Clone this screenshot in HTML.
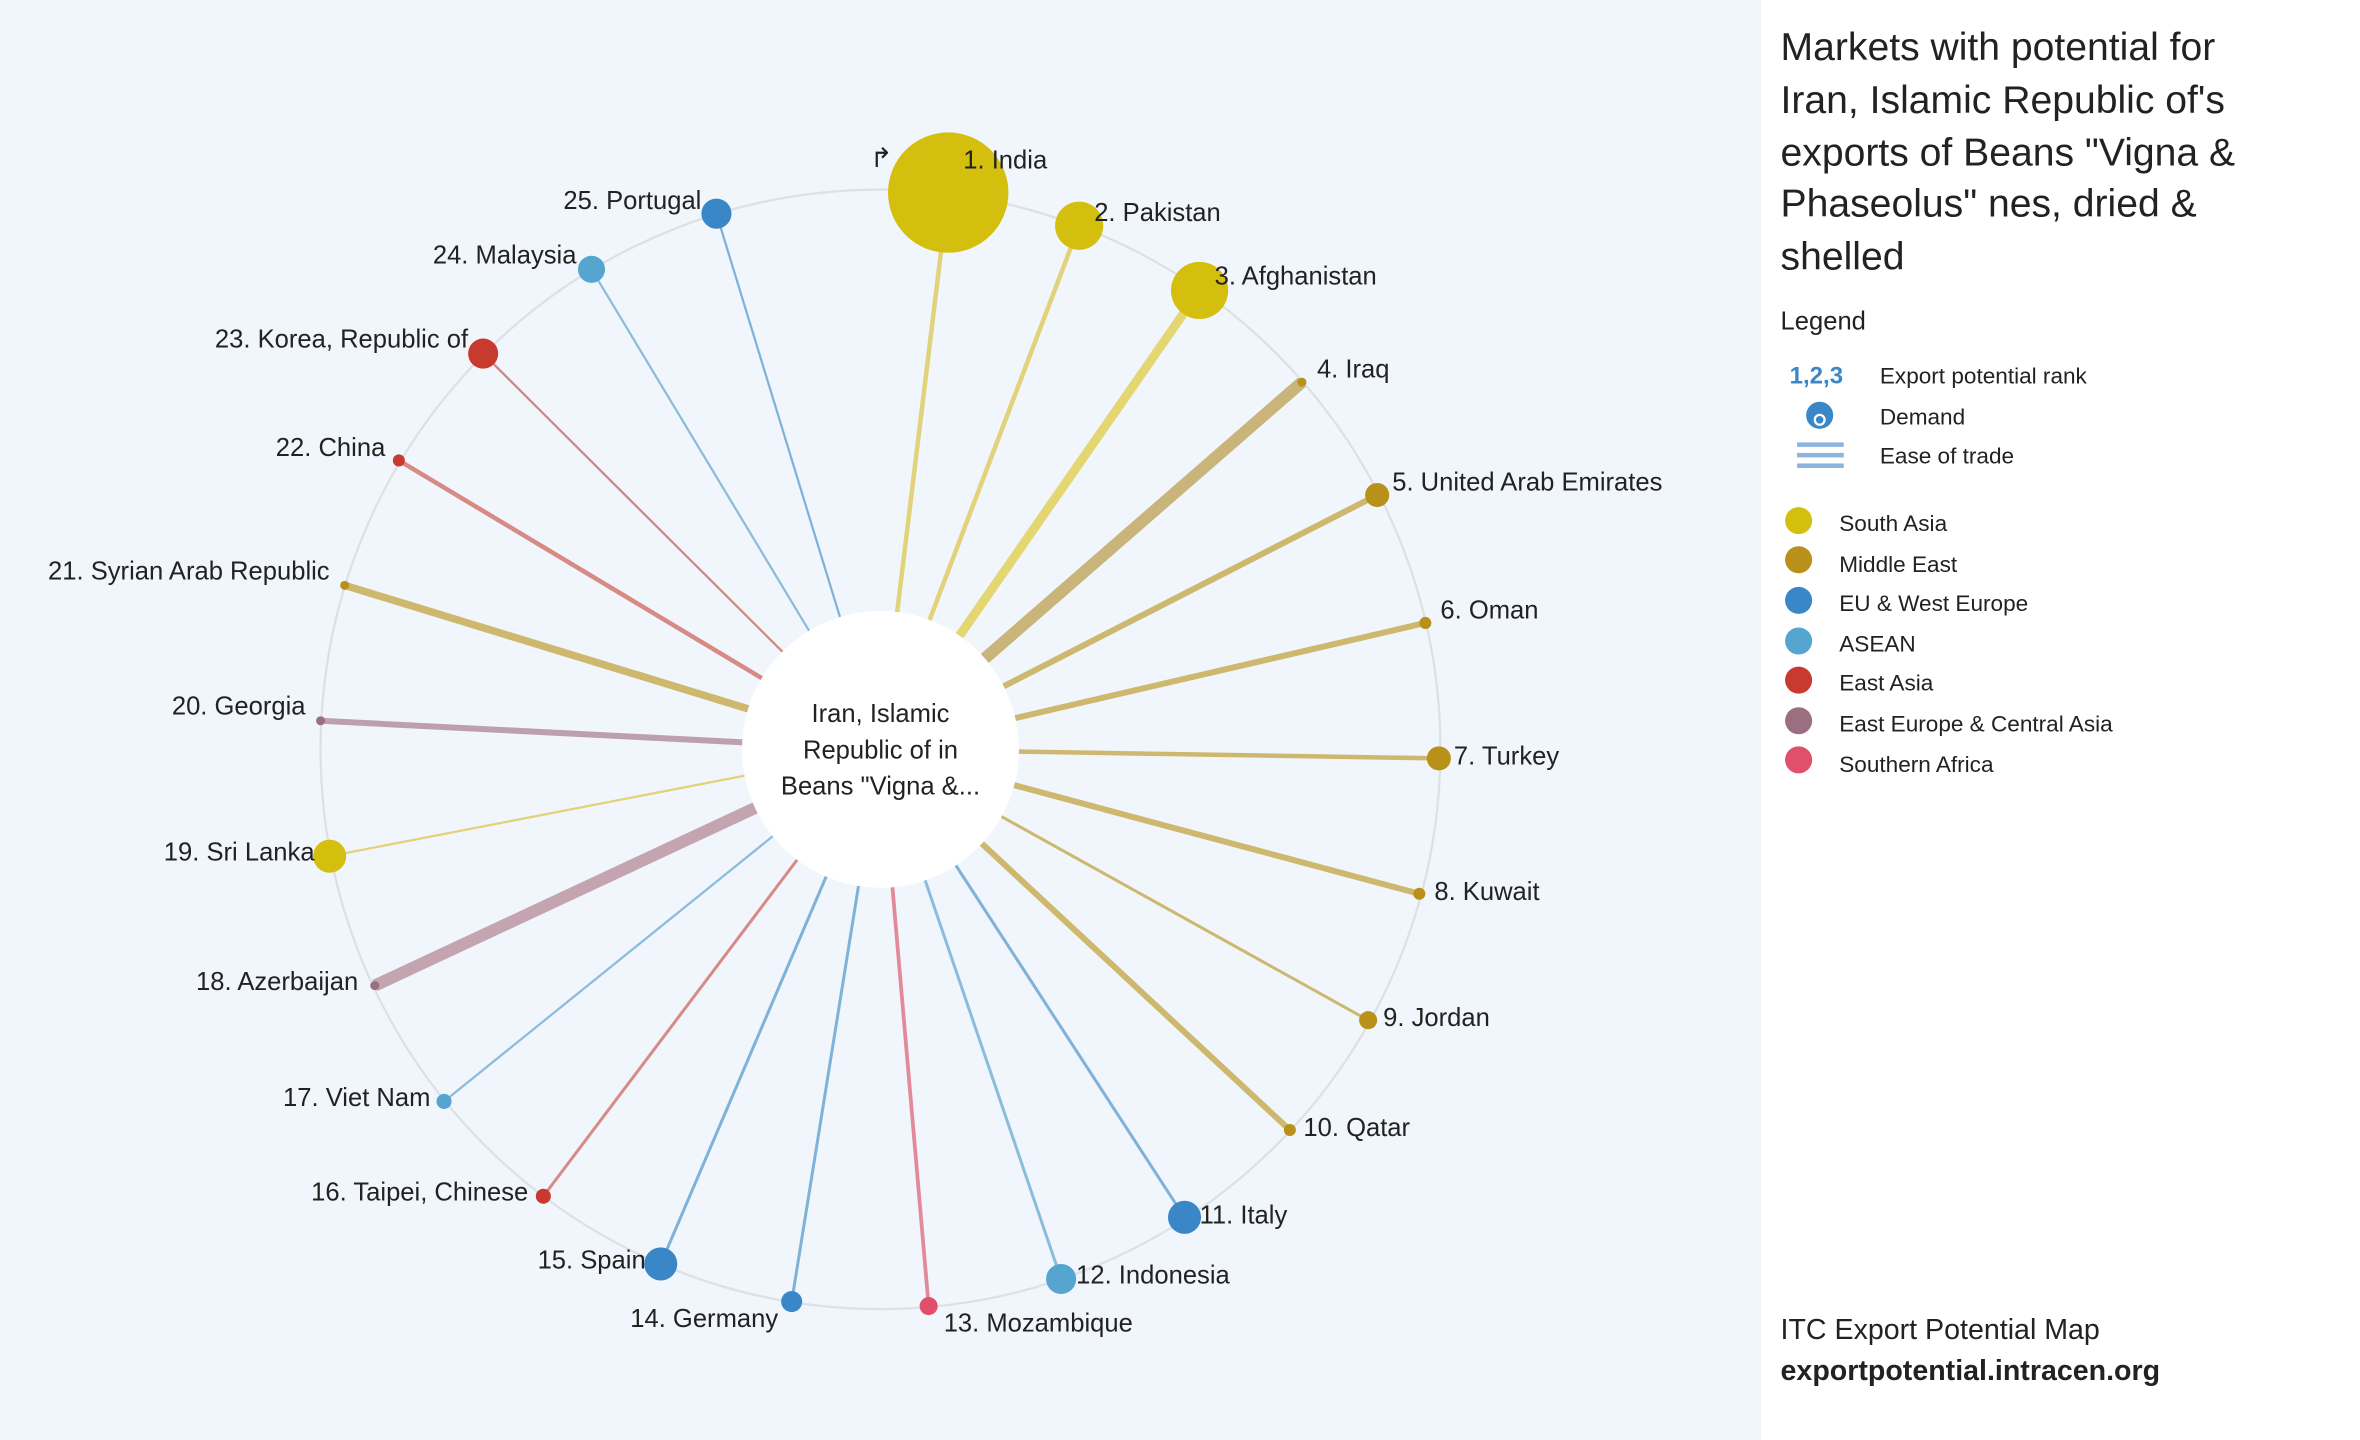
<!DOCTYPE html>
<html><head><meta charset="utf-8"><style>
html,body{margin:0;padding:0;width:2360px;height:1440px;overflow:hidden;background:#fff}
svg{display:block}
text{font-family:"Liberation Sans",sans-serif;fill:#222}
</style></head><body>
<svg width="2360" height="1440" viewBox="0 0 1568 957" preserveAspectRatio="none" xmlns="http://www.w3.org/2000/svg">
<rect x="0" y="0" width="1170" height="957" fill="#f1f6fc"/>
<rect x="1170" y="0" width="398" height="957" fill="#fff"/>
<circle cx="585" cy="498" r="372" fill="none" stroke="#dde0e4" stroke-width="1.5"/>
<g stroke-linecap="butt">
<line x1="630" y1="128" x2="585" y2="498" stroke="#e2d27a" stroke-width="3"/>
<line x1="717" y1="150" x2="585" y2="498" stroke="#e2d27a" stroke-width="3"/>
<line x1="797" y1="193" x2="585" y2="498" stroke="#e4d670" stroke-width="6"/>
<line x1="865" y1="254" x2="585" y2="498" stroke="#c9b57a" stroke-width="8"/>
<line x1="915" y1="329" x2="585" y2="498" stroke="#cdb86e" stroke-width="4"/>
<line x1="947" y1="414" x2="585" y2="498" stroke="#cdb86e" stroke-width="4"/>
<line x1="956" y1="504" x2="585" y2="498" stroke="#cdb86e" stroke-width="3"/>
<line x1="943" y1="594" x2="585" y2="498" stroke="#cdb86e" stroke-width="4"/>
<line x1="909" y1="678" x2="585" y2="498" stroke="#cdb86e" stroke-width="2"/>
<line x1="857" y1="751" x2="585" y2="498" stroke="#cdb86e" stroke-width="4"/>
<line x1="787" y1="809" x2="585" y2="498" stroke="#7fb2d8" stroke-width="2"/>
<line x1="705" y1="850" x2="585" y2="498" stroke="#8cbcdc" stroke-width="2"/>
<line x1="617" y1="868" x2="585" y2="498" stroke="#e28a9a" stroke-width="2.5"/>
<line x1="526" y1="865" x2="585" y2="498" stroke="#7fb2d8" stroke-width="2"/>
<line x1="439" y1="840" x2="585" y2="498" stroke="#7fb2d8" stroke-width="2"/>
<line x1="361" y1="795" x2="585" y2="498" stroke="#d88a84" stroke-width="2"/>
<line x1="295" y1="732" x2="585" y2="498" stroke="#8cbcdc" stroke-width="1.5"/>
<line x1="249" y1="655" x2="585" y2="498" stroke="#c4a4ae" stroke-width="8"/>
<line x1="219" y1="569" x2="585" y2="498" stroke="#e2d27a" stroke-width="1.5"/>
<line x1="213" y1="479" x2="585" y2="498" stroke="#bca0ae" stroke-width="4"/>
<line x1="229" y1="389" x2="585" y2="498" stroke="#cdb86e" stroke-width="5"/>
<line x1="265" y1="306" x2="585" y2="498" stroke="#d88a84" stroke-width="3"/>
<line x1="321" y1="235" x2="585" y2="498" stroke="#d08880" stroke-width="1.5"/>
<line x1="393" y1="179" x2="585" y2="498" stroke="#8cbcdc" stroke-width="1.5"/>
<line x1="476" y1="142" x2="585" y2="498" stroke="#7fb2d8" stroke-width="1.5"/>
</g>
<circle cx="585" cy="498" r="92" fill="#fff"/>
<text x="585" y="480" font-size="17" text-anchor="middle">Iran, Islamic</text>
<text x="585" y="504" font-size="17" text-anchor="middle">Republic of in</text>
<text x="585" y="528" font-size="17" text-anchor="middle">Beans "Vigna &amp;...</text>
<g>
<circle cx="630" cy="128" r="40" fill="#d4bf0f"/>
<circle cx="717" cy="150" r="16" fill="#d4bf0f"/>
<circle cx="797" cy="193" r="19" fill="#d4bf0f"/>
<circle cx="865" cy="254" r="3" fill="#b8901a"/>
<circle cx="915" cy="329" r="8" fill="#b8901a"/>
<circle cx="947" cy="414" r="4" fill="#b8901a"/>
<circle cx="956" cy="504" r="8" fill="#b8901a"/>
<circle cx="943" cy="594" r="4" fill="#b8901a"/>
<circle cx="909" cy="678" r="6" fill="#b8901a"/>
<circle cx="857" cy="751" r="4" fill="#b8901a"/>
<circle cx="787" cy="809" r="11" fill="#3a87c8"/>
<circle cx="705" cy="850" r="10" fill="#55a5d0"/>
<circle cx="617" cy="868" r="6" fill="#e0506a"/>
<circle cx="526" cy="865" r="7" fill="#3a87c8"/>
<circle cx="439" cy="840" r="11" fill="#3a87c8"/>
<circle cx="361" cy="795" r="5" fill="#c83a2e"/>
<circle cx="295" cy="732" r="5" fill="#55a5d0"/>
<circle cx="249" cy="655" r="3" fill="#9a7080"/>
<circle cx="219" cy="569" r="11" fill="#d4bf0f"/>
<circle cx="213" cy="479" r="3" fill="#9a7080"/>
<circle cx="229" cy="389" r="3" fill="#b8901a"/>
<circle cx="265" cy="306" r="4" fill="#c83a2e"/>
<circle cx="321" cy="235" r="10" fill="#c83a2e"/>
<circle cx="393" cy="179" r="9" fill="#55a5d0"/>
<circle cx="476" cy="142" r="10" fill="#3a87c8"/>
</g>
<g font-size="17">
<text x="640" y="112">1. India</text>
<text x="727" y="147">2. Pakistan</text>
<text x="807" y="189">3. Afghanistan</text>
<text x="875" y="251">4. Iraq</text>
<text x="925" y="326">5. United Arab Emirates</text>
<text x="957" y="411">6. Oman</text>
<text x="966" y="508">7. Turkey</text>
<text x="953" y="598">8. Kuwait</text>
<text x="919" y="682">9. Jordan</text>
<text x="866" y="755">10. Qatar</text>
<text x="797" y="813">11. Italy</text>
<text x="715" y="853">12. Indonesia</text>
<text x="627" y="885">13. Mozambique</text>
<text x="517" y="882" text-anchor="end">14. Germany</text>
<text x="429" y="843" text-anchor="end">15. Spain</text>
<text x="351" y="798" text-anchor="end">16. Taipei, Chinese</text>
<text x="286" y="735" text-anchor="end">17. Viet Nam</text>
<text x="238" y="658" text-anchor="end">18. Azerbaijan</text>
<text x="209" y="572" text-anchor="end">19. Sri Lanka</text>
<text x="203" y="475" text-anchor="end">20. Georgia</text>
<text x="219" y="385" text-anchor="end">21. Syrian Arab Republic</text>
<text x="256" y="303" text-anchor="end">22. China</text>
<text x="311" y="231" text-anchor="end">23. Korea, Republic of</text>
<text x="383" y="175" text-anchor="end">24. Malaysia</text>
<text x="466" y="139" text-anchor="end">25. Portugal</text>
</g>
<text x="578" y="111" font-size="18">↱</text>
<g font-size="26">
<text x="1183" y="40">Markets with potential for</text>
<text x="1183" y="75">Iran, Islamic Republic of's</text>
<text x="1183" y="110">exports of Beans "Vigna &amp;</text>
<text x="1183" y="144">Phaseolus" nes, dried &amp;</text>
<text x="1183" y="179">shelled</text>
</g>
<text x="1183" y="219" font-size="17">Legend</text>
<text x="1189" y="255" font-size="16" font-weight="bold" style="fill:#3a87c8">1,2,3</text>
<text x="1249" y="255" font-size="15">Export potential rank</text>
<circle cx="1209" cy="276" r="9" fill="#3a87c8"/>
<circle cx="1209" cy="279" r="4" fill="#fff"/>
<circle cx="1209" cy="279" r="2.5" fill="#3a87c8"/>
<text x="1249" y="282" font-size="15">Demand</text>
<rect x="1194" y="294" width="31" height="3" fill="#8cb4dc"/>
<rect x="1194" y="301" width="31" height="3" fill="#8cb4dc"/>
<rect x="1194" y="308" width="31" height="3" fill="#8cb4dc"/>
<text x="1249" y="308" font-size="15">Ease of trade</text>
<g font-size="15">
<circle cx="1195" cy="346" r="9" fill="#d4bf0f"/><text x="1222" y="353">South Asia</text>
<circle cx="1195" cy="372" r="9" fill="#b8901a"/><text x="1222" y="380">Middle East</text>
<circle cx="1195" cy="399" r="9" fill="#3a87c8"/><text x="1222" y="406">EU &amp; West Europe</text>
<circle cx="1195" cy="426" r="9" fill="#55a5d0"/><text x="1222" y="433">ASEAN</text>
<circle cx="1195" cy="452" r="9" fill="#c83a2e"/><text x="1222" y="459">East Asia</text>
<circle cx="1195" cy="479" r="9" fill="#9a7080"/><text x="1222" y="486">East Europe &amp; Central Asia</text>
<circle cx="1195" cy="505" r="9" fill="#e0506a"/><text x="1222" y="513">Southern Africa</text>
</g>
<text x="1183" y="890" font-size="19">ITC Export Potential Map</text>
<text x="1183" y="917" font-size="19" font-weight="bold">exportpotential.intracen.org</text>
</svg>
</body></html>
